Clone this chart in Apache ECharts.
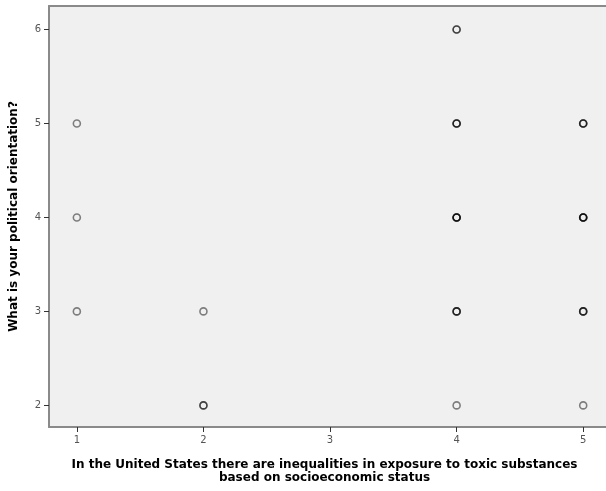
<!DOCTYPE html>
<html><head><meta charset="utf-8">
<script src="https://cdn.jsdelivr.net/npm/echarts@6/dist/echarts.min.js"></script>
<style>html,body{margin:0;padding:0;background:#fff}#c{width:606px;height:491px}</style>
</head><body><div id="c"></div>
<script>
// Observed (x, y) combinations and how many responses overlap at each
const xValues = [1, 1, 1, 2, 2, 4, 4, 4, 4, 4, 5, 5, 5, 5];
const yValues = [3, 4, 5, 2, 3, 2, 3, 4, 5, 6, 2, 3, 4, 5];
const counts  = [1, 1, 1, 2, 1, 1, 3, 4, 3, 2, 1, 3, 4, 3];
const xTicks = [1, 2, 3, 4, 5];
const yTicks = [2, 3, 4, 5, 6];
const xTitle = 'In the United States there are inequalities in exposure to toxic substances\nbased on socioeconomic status';
const yTitle = 'What is your political orientation?';

const pts = [];
xValues.forEach((x, i) => { for (let k = 0; k < counts[i]; k++) pts.push([x, yValues[i]]); });

const chart = echarts.init(document.getElementById('c'), null, {renderer: 'canvas'});
const tickFont = {color: '#555', fontSize: 10, fontFamily: 'DejaVu Sans'};
const frame = {show: true, onZero: false, lineStyle: {color: '#8a8a8a', width: 2}};
chart.setOption({
  animation: false,
  grid: {left: 49, top: 6, right: 0, bottom: 64, show: true, backgroundColor: '#f0f0f0', borderWidth: 0},
  xAxis: [{
    type: 'value', min: 0.78, max: 5.18, interval: 1,
    splitLine: {show: false},
    axisLine: frame,
    axisTick: {show: true, length: 5, lineStyle: {color: '#333'}, customValues: xTicks},
    axisLabel: Object.assign({margin: 8, customValues: xTicks}, tickFont),
    name: xTitle, nameLocation: 'middle', nameGap: 31,
    nameTextStyle: {fontFamily: 'DejaVu Sans', fontWeight: 'bold', fontSize: 12, color: '#000', lineHeight: 13, padding: [0, 0, 0, -6]}
  }, {
    type: 'value', position: 'top', min: 0.78, max: 5.18,
    splitLine: {show: false}, axisLine: frame, axisTick: {show: false}, axisLabel: {show: false}
  }],
  yAxis: {
    type: 'value', min: 1.77, max: 6.25,
    splitLine: {show: false},
    axisLine: frame,
    axisTick: {show: true, length: 5, lineStyle: {color: '#333'}, customValues: yTicks},
    axisLabel: Object.assign({margin: 8, customValues: yTicks}, tickFont),
    name: yTitle, nameLocation: 'middle', nameGap: 29,
    nameTextStyle: {fontFamily: 'DejaVu Sans', fontWeight: 'bold', fontSize: 12, color: '#000'}
  },
  series: [{
    type: 'scatter', data: pts, symbol: 'circle', symbolSize: 7,
    itemStyle: {color: 'rgba(0,0,0,0)', borderColor: 'rgba(0,0,0,0.6)', borderWidth: 1.6}
  }]
});
</script></body></html>
